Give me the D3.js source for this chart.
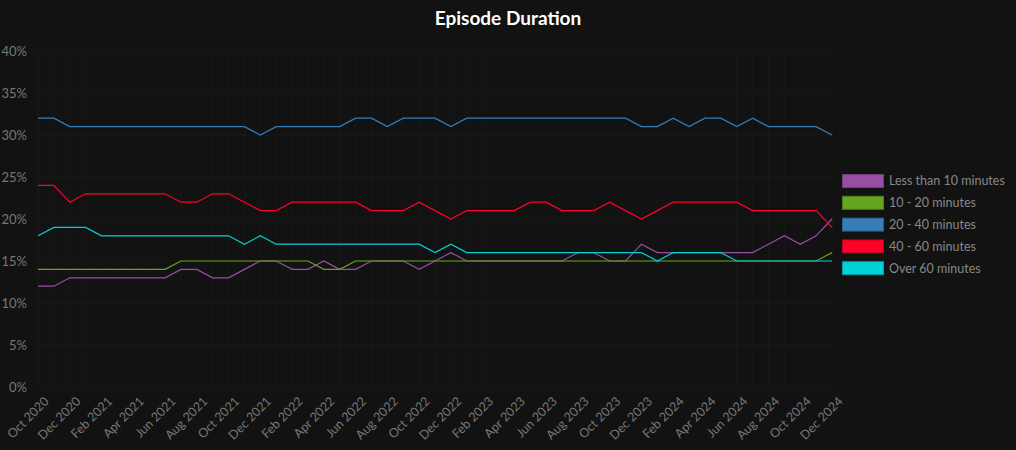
<!DOCTYPE html>
<html><head><meta charset="utf-8">
<script src="https://cdn.jsdelivr.net/npm/d3@7"></script>
<style>
html,body{margin:0;padding:0;background:#121212;}
svg{display:block;}
</style></head>
<body>
<script>
const months = (() => {
  const names = ["Jan","Feb","Mar","Apr","May","Jun","Jul","Aug","Sep","Oct","Nov","Dec"];
  const out = [];
  let m = 9, y = 2020;
  for (let i = 0; i < 51; i++) { out.push(names[m] + " " + y); m++; if (m === 12) { m = 0; y++; } }
  return out;
})();
const seriesNames = ["Less than 10 minutes","10 - 20 minutes","20 - 40 minutes","40 - 60 minutes","Over 60 minutes"];
const seriesColors = ["#984ea3","#66a61e","#377eb8","#ff0029","#00d2d5"];
const lessThan10 = [12,12,13,13,13,13,13,13,13,14,14,13,13,14,15,15,14,14,15,14,14,15,15,15,14,15,16,15,15,15,15,15,15,15,16,16,15,15,17,16,16,16,16,16,16,16,17,18,17,18,20];
const min10to20 = [14,14,14,14,14,14,14,14,14,15,15,15,15,15,15,15,15,15,14,14,15,15,15,15,15,15,15,15,15,15,15,15,15,15,15,15,15,15,15,15,15,15,15,15,15,15,15,15,15,15,16];
const min20to40 = [32,32,31,31,31,31,31,31,31,31,31,31,31,31,30,31,31,31,31,31,32,32,31,32,32,32,31,32,32,32,32,32,32,32,32,32,32,32,31,31,32,31,32,32,31,32,31,31,31,31,30];
const min40to60 = [24,24,22,23,23,23,23,23,23,22,22,23,23,22,21,21,22,22,22,22,22,21,21,21,22,21,20,21,21,21,21,22,22,21,21,21,22,21,20,21,22,22,22,22,22,21,21,21,21,21,19];
const over60 = [18,19,19,19,18,18,18,18,18,18,18,18,18,17,18,17,17,17,17,17,17,17,17,17,17,16,17,16,16,16,16,16,16,16,16,16,16,16,16,15,16,16,16,16,15,15,15,15,15,15,15];
const yTicks = [0,5,10,15,20,25,30,35,40];
const allSeries = [lessThan10, min10to20, min20to40, min40to60, over60];

const FONT = "Lato, 'Noto Sans', sans-serif";
const W = 1016, H = 450;
const svg = d3.select("body").append("svg").attr("width", W).attr("height", H);
svg.append("rect").attr("width", W).attr("height", H).attr("fill", "#121212");

const x = d3.scalePoint().domain(months).range([38, 832]).padding(0);
const y = d3.scaleLinear().domain([0, 40]).range([387, 51]);

// grid
const g = svg.append("g");
g.selectAll("line.vg").data(months).join("line")
  .attr("x1", d => x(d)).attr("x2", d => x(d)).attr("y1", 51).attr("y2", 387)
  .attr("stroke", "#181818").attr("stroke-width", 1);
g.selectAll("line.hg").data(yTicks).join("line")
  .attr("x1", 38).attr("x2", 832).attr("y1", d => y(d)).attr("y2", d => y(d))
  .attr("stroke", "#181818").attr("stroke-width", 1);

// y axis
const yAxis = d3.axisLeft(y).tickValues(yTicks).tickFormat(d => d + "%").tickSize(0).tickPadding(11);
const ya = svg.append("g").attr("transform", "translate(38,0)").call(yAxis);
ya.select(".domain").remove();
ya.selectAll("text").attr("fill", "#777").style("font-family", FONT).style("font-size", "13px");

// x axis
const xTickVals = months.filter((d, i) => i % 2 === 0);
const xAxis = d3.axisBottom(x).tickValues(xTickVals).tickSize(0).tickPadding(0);
const xa = svg.append("g").attr("transform", "translate(0,387)").call(xAxis);
xa.select(".domain").remove();
xa.selectAll("text")
  .attr("fill", "#777")
  .style("font-family", FONT).style("font-size", "12.5px")
  .attr("text-anchor", "end").attr("dy", "0.35em").attr("x", 0).attr("y", 0)
  .attr("transform", "translate(8,12) rotate(-45)");

// lines
const line = d3.line().x((d, i) => x(months[i])).y(d => y(d));
svg.append("g").selectAll("path").data(allSeries).join("path")
  .attr("d", d => line(d)).attr("fill", "none")
  .attr("stroke", (d, i) => seriesColors[i]).attr("stroke-width", 1.2);

// title
svg.append("text").attr("x", 508).attr("y", 25).attr("text-anchor", "middle")
  .attr("fill", "#fff").style("font-family", FONT)
  .style("font-size", "19px").style("font-weight", "bold").text("Episode Duration");

// legend
const lg = svg.append("g").selectAll("g").data(seriesNames).join("g")
  .attr("transform", (d, i) => `translate(842,${174 + i * 21.8})`);
lg.append("rect").attr("width", 41).attr("height", 13).attr("x", 0.5).attr("y", 0.5)
  .attr("fill", (d, i) => seriesColors[i])
  .attr("stroke", (d, i) => d3.color(seriesColors[i]).darker(0.8)).attr("stroke-width", 1);
lg.append("text").attr("x", 47).attr("y", 7).attr("dy", "0.35em")
  .attr("fill", "#888").style("font-family", FONT)
  .style("font-size", "12.5px").text(d => d);
</script>
</body></html>
